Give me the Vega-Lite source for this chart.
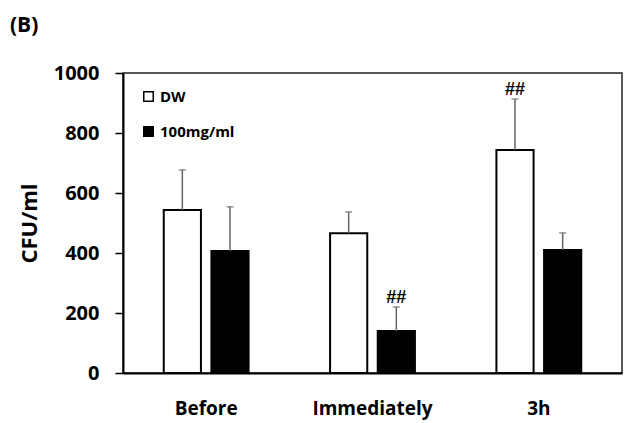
{
  "$schema": "https://vega.github.io/schema/vega-lite/v6.json",
  "autosize": "none",
  "width": 499,
  "height": 300,
  "padding": {"left": 123, "top": 73, "right": 2, "bottom": 50},
  "background": "white",
  "title": {
    "text": "(B)",
    "anchor": "start",
    "frame": "group",
    "dx": -113,
    "offset": 27,
    "fontSize": 21,
    "fontWeight": "bold",
    "font": "Open Sans",
    "color": "black"
  },
  "config": {
    "view": {"stroke": "#222", "strokeWidth": 1.5},
    "font": "Open Sans"
  },
  "data": {
    "values": [
      {"time": "Before", "group": "DW", "mean": 543, "upper": 677, "sig": ""},
      {"time": "Before", "group": "100mg/ml", "mean": 407, "upper": 554, "sig": ""},
      {"time": "Immediately", "group": "DW", "mean": 466, "upper": 537, "sig": ""},
      {"time": "Immediately", "group": "100mg/ml", "mean": 140, "upper": 220, "sig": "##"},
      {"time": "3h", "group": "DW", "mean": 743, "upper": 913, "sig": "##"},
      {"time": "3h", "group": "100mg/ml", "mean": 410, "upper": 467, "sig": ""}
    ]
  },
  "encoding": {
    "x": {
      "field": "time",
      "type": "nominal",
      "sort": ["Before", "Immediately", "3h"],
      "scale": {"paddingInner": 0.49, "paddingOuter": 0.245},
      "axis": {
        "title": null,
        "labelAngle": 0,
        "labelFontSize": 19,
        "labelFontWeight": "bold",
        "labelColor": "black",
        "labelPadding": 26,
        "ticks": false,
        "domainColor": "black",
        "domainWidth": 2
      }
    },
    "xOffset": {
      "field": "group",
      "type": "nominal",
      "sort": ["DW", "100mg/ml"],
      "scale": {"paddingInner": 0.22, "paddingOuter": 0}
    }
  },
  "layer": [
    {
      "mark": {"type": "bar", "stroke": "black", "strokeWidth": 2},
      "encoding": {
        "y": {
          "field": "mean",
          "type": "quantitative",
          "scale": {"domain": [0, 1000], "nice": false},
          "axis": {
            "title": "CFU/ml",
            "titleFontSize": 22,
            "titleFontWeight": "bold",
            "titleColor": "black",
            "titlePadding": 12,
            "values": [0, 200, 400, 600, 800, 1000],
            "format": "d",
            "grid": false,
            "labelFontSize": 20,
            "labelFontWeight": "bold",
            "labelColor": "black",
            "labelPadding": 16,
            "tickSize": 8,
            "tickColor": "black",
            "tickWidth": 1.5,
            "domainColor": "black",
            "domainWidth": 2
          }
        },
        "fill": {
          "field": "group",
          "type": "nominal",
          "scale": {"domain": ["DW", "100mg/ml"], "range": ["white", "black"]},
          "legend": {
            "title": null,
            "orient": "none",
            "legendX": 18,
            "legendY": 16,
            "symbolType": "square",
            "symbolSize": 90,
            "symbolStrokeColor": "black",
            "symbolStrokeWidth": 1.5,
            "labelFontSize": 15,
            "labelFontWeight": "bold",
            "labelColor": "black",
            "labelOffset": 4,
            "rowPadding": 18
          }
        }
      }
    },
    {
      "mark": {"type": "rule", "color": "#666", "strokeWidth": 1.5},
      "encoding": {
        "y": {"field": "mean", "type": "quantitative"},
        "y2": {"field": "upper"}
      }
    },
    {
      "mark": {"type": "tick", "color": "#666", "size": 7, "thickness": 1.5},
      "encoding": {
        "y": {"field": "upper", "type": "quantitative"}
      }
    },
    {
      "mark": {"type": "text", "baseline": "bottom", "dy": 0, "fontSize": 18, "fontWeight": "bold", "color": "black", "font": "Liberation Sans"},
      "encoding": {
        "y": {"field": "upper", "type": "quantitative"},
        "text": {"field": "sig"}
      }
    }
  ]
}
